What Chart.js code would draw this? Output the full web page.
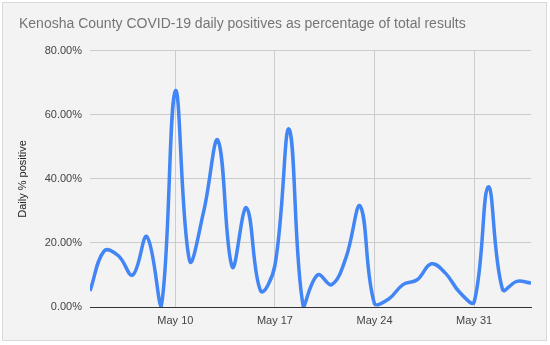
<!DOCTYPE html>
<html>
<head>
<meta charset="utf-8">
<script src="https://cdn.jsdelivr.net/npm/chart.js@4.4.1/dist/chart.umd.min.js"></script>
<style>
  html, body { margin: 0; padding: 0; background: #ffffff; }
  #frame { position: absolute; left: 2px; top: 2px; width: 543px; height: 337px; background: #f3f3f3; border: 1px solid #d9d9d9; }
  #wrap { position: absolute; left: 0; top: 0; width: 550px; height: 345px; }
</style>
</head>
<body>
<div id="frame"></div>
<div id="wrap"><canvas id="chart" width="550" height="345"></canvas></div>
<script>
    'use strict';

    // one value per day, May 4 .. Jun 4
    var days = [
        'May 4', 'May 5', 'May 6', 'May 7', 'May 8', 'May 9', 'May 10',
        'May 11', 'May 12', 'May 13', 'May 14', 'May 15', 'May 16', 'May 17',
        'May 18', 'May 19', 'May 20', 'May 21', 'May 22', 'May 23', 'May 24',
        'May 25', 'May 26', 'May 27', 'May 28', 'May 29', 'May 30', 'May 31',
        'Jun 1', 'Jun 2', 'Jun 3', 'Jun 4'
    ];
    var dailyPositive = [
        5, 17.5, 16, 10, 22, 0, 67.5,
        14.5, 30, 52, 12.5, 31, 5, 13,
        55.5, 0, 10, 7, 15.5, 31.5, 1,
        2.5, 7, 8.5, 13.5, 10.5, 4.5, 1.5,
        37.5, 5.5, 8, 7.5
    ];
    var xTickLabels = ['May 10', 'May 17', 'May 24', 'May 31'];
    var yTicks = [0, 20, 40, 60, 80];

    var fontFamily = '"Liberation Sans", Arial, sans-serif';

    var isMarked = function (index) {
        return xTickLabels.indexOf(days[index]) !== -1;
    };

    var ctx = document.getElementById('chart');
    var chart = new Chart(ctx, {
        type: 'line',
        data: {
            labels: days,
            datasets: [{
                label: 'Daily % positive',
                data: dailyPositive,
                borderColor: '#4285f4',
                borderWidth: 3.5,
                pointRadius: 0,
                tension: 0.4,
                fill: false,
                clip: 0
            }]
        },
        options: {
            responsive: false,
            animation: false,
            layout: { padding: { left: 19, right: 19, top: 0, bottom: 0 } },
            plugins: {
                legend: { display: false },
                tooltip: { enabled: false },
                title: {
                    display: true,
                    text: 'Kenosha County COVID-19 daily positives as percentage of total results',
                    align: 'start',
                    color: '#757575',
                    font: { family: fontFamily, size: 14, weight: 'normal' },
                    padding: { top: 16, bottom: 18 }
                }
            },
            scales: {
                x: {
                    type: 'category',
                    offset: false,
                    afterFit: function (scale) { scale.height = 38; },
                    grid: {
                        drawTicks: false,
                        color: function (c) { return isMarked(c.index) ? '#cccccc' : 'rgba(0,0,0,0)'; },
                        lineWidth: 1
                    },
                    border: { display: true, color: '#333333', width: 1 },
                    ticks: {
                        autoSkip: false,
                        maxRotation: 0,
                        padding: 7,
                        color: '#444444',
                        font: { family: fontFamily, size: 11 },
                        callback: function (value, index) { return isMarked(index) ? days[index] : ''; }
                    }
                },
                y: {
                    min: yTicks[0],
                    max: yTicks[yTicks.length - 1],
                    afterFit: function (scale) { scale.width = 71; },
                    afterBuildTicks: function (scale) {
                        scale.ticks = yTicks.map(function (v) { return { value: v }; });
                    },
                    grid: { drawTicks: false, color: '#cccccc', lineWidth: 1 },
                    border: { display: false },
                    ticks: {
                        padding: 8,
                        color: '#444444',
                        font: { family: fontFamily, size: 11 },
                        callback: function (value) { return value.toFixed(2) + '%'; }
                    },
                    title: {
                        display: true,
                        text: 'Daily % positive',
                        color: '#222222',
                        font: { family: fontFamily, size: 11 },
                        padding: { top: -3, bottom: 0 }
                    }
                }
            }
        }
    });
</script>
</body>
</html>
